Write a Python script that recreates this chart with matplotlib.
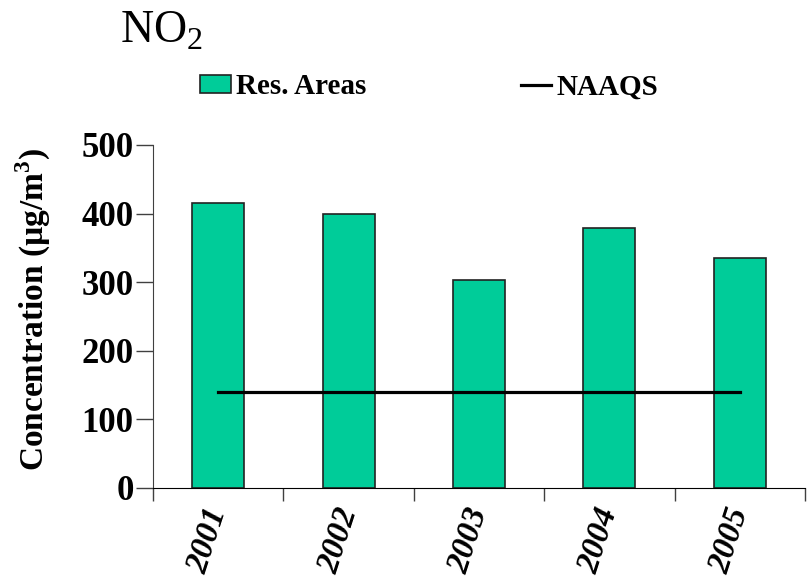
import numpy as np
import matplotlib
matplotlib.use('Agg')
import matplotlib.pyplot as plt
from matplotlib.patches import Patch
from matplotlib.lines import Line2D

years = ['2001', '2002', '2003', '2004', '2005']
res_areas = [415, 400, 303, 379, 335]
naaqs = [140, 140, 140, 140, 140]

plt.rcParams['font.family'] = 'Liberation Serif'
plt.rcParams['mathtext.fontset'] = 'custom'
plt.rcParams['mathtext.rm'] = 'Liberation Serif'
plt.rcParams['mathtext.bf'] = 'Liberation Serif:bold'

bar_color = '#00CC99'

fig = plt.figure(figsize=(8.07, 5.76), dpi=100)
ax = fig.add_axes([153/807, 1 - 488/576, 652/807, 343/576])

x = np.arange(len(years))
ax.bar(x, res_areas, width=0.4, color=bar_color, edgecolor='#222222', linewidth=1.2, zorder=2)
ax.plot(x, naaqs, color='black', linewidth=2.3, zorder=3)

ax.set_xlim(-0.5, len(years) - 0.5)
ax.set_ylim(0, 500)
ax.set_yticks([0, 100, 200, 300, 400, 500])

# category ticks sit between the bars
ax.set_xticks(np.arange(-0.5, len(years)), minor=False)
ax.set_xticklabels([''] * (len(years) + 1))
ax.set_xticks(x, minor=True)
ax.set_xticklabels(years, minor=True, rotation=72, fontsize=24, fontweight='bold',
                   fontstyle='italic', ha='right', va='center', rotation_mode='anchor')
ax.tick_params(axis='x', which='minor', length=0, pad=15)
ax.tick_params(axis='x', which='major', direction='out', length=9, width=1, colors='#404040')
ax.tick_params(axis='y', direction='out', length=12, width=1, pad=2, colors='#404040')
for lab in ax.get_yticklabels():
    lab.set_fontsize(25)
    lab.set_fontweight('bold')
    lab.set_color('black')
for lab in ax.get_xticklabels(minor=True):
    lab.set_color('black')

for s in ['top', 'right']:
    ax.spines[s].set_visible(False)
ax.spines['left'].set_color('#404040')
ax.spines['bottom'].set_color('black')

ax.set_ylabel('Concentration (µg/m$^\\mathbf{3}$)', fontsize=24, fontweight='bold')
ax.yaxis.set_label_coords(-0.153, 0.519)

fig.text(120/807, 1 - 43/576, 'NO$_\\mathrm{2}$', fontsize=33, va='baseline', ha='left')

handles = [Patch(facecolor=bar_color, edgecolor='#222222', linewidth=1.2),
           Line2D([0], [0], color='black', linewidth=2.3)]
fig.legend(handles, ['Res. Areas', 'NAAQS'], ncol=2, loc='center left',
           bbox_to_anchor=(200/807, 1 - 87/576), frameon=False,
           prop={'size': 21, 'weight': 'bold'}, handlelength=1.05, handleheight=0.55,
           handletextpad=0.17, columnspacing=5.3, borderpad=0, borderaxespad=0)

plt.savefig('out.png', dpi=100)
